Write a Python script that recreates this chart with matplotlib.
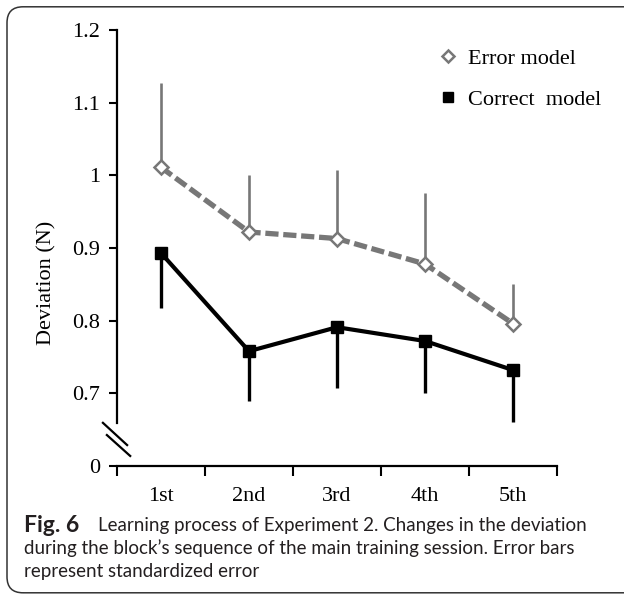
import matplotlib
matplotlib.use("Agg")
import matplotlib.pyplot as plt
from matplotlib.lines import Line2D
from matplotlib.patches import FancyBboxPatch

# data
blocks = ["1st", "2nd", "3rd", "4th", "5th"]
error_mean = [1.011, 0.922, 0.913, 0.878, 0.796]
error_se = [0.116, 0.078, 0.094, 0.097, 0.054]
correct_mean = [0.893, 0.758, 0.791, 0.772, 0.732]
correct_se = [0.076, 0.069, 0.083, 0.072, 0.071]
ytick_vals = [0.6, 0.7, 0.8, 0.9, 1.0, 1.1, 1.2]
ytick_labels = ["0", "0.7", "0.8", "0.9", "1", "1.1", "1.2"]

gray = "#777777"
serif = "Liberation Serif"

fig = plt.figure(figsize=(6.24, 5.94), dpi=100)
ax = fig.add_axes([117 / 624, 1 - 466 / 594, 440 / 624, 436 / 594])

x = list(range(1, len(blocks) + 1))

# one-sided error bars
ax.errorbar(x, error_mean, yerr=[[0] * 5, error_se], fmt="none",
            ecolor=gray, elinewidth=1.9, capsize=0, zorder=2)
ax.errorbar(x, correct_mean, yerr=[correct_se, [0] * 5], fmt="none",
            ecolor="black", elinewidth=2.4, capsize=0, zorder=2)

ax.plot(x, error_mean, color=gray, lw=3.8, dashes=(2.5, 0.9),
        dash_capstyle="butt", marker="D", ms=7.5, mfc="white",
        mec=gray, mew=1.8, zorder=3)
ax.plot(x, correct_mean, color="black", lw=3, marker="s", ms=8,
        mfc="black", mec="black", zorder=3)

ax.set_xlim(0.5, 5.5)
ax.set_ylim(0.6, 1.2)

ax.spines["top"].set_visible(False)
ax.spines["right"].set_visible(False)
for s in ["left", "bottom"]:
    ax.spines[s].set_linewidth(1.6)
ax.spines["left"].set_bounds(0.659, 1.2)

ax.set_yticks(ytick_vals)
ax.set_yticklabels(ytick_labels, fontfamily=serif, fontsize=16)
ax.tick_params(axis="y", direction="out", length=6, width=1.5, pad=6)

ax.set_xticks([0.5, 1.5, 2.5, 3.5, 4.5, 5.5])
ax.set_xticklabels([])
ax.set_xticks(x, minor=True)
ax.set_xticklabels(blocks, minor=True, fontfamily=serif, fontsize=16)
ax.tick_params(axis="x", which="major", direction="out", length=7, width=1.5)
ax.tick_params(axis="x", which="minor", length=0, pad=15)

ax.set_ylabel("Deviation (N)", fontfamily=serif, fontsize=16)
ax.yaxis.set_label_coords(-0.138, 0.42)

# axis break marks
for x0, y0, x1, y1 in [(-0.032, 0.099, 0.023, 0.048),
                       (-0.023, 0.071, 0.030, 0.023)]:
    ax.plot([x0, x1], [y0, y1], transform=ax.transAxes, color="black",
            lw=1.6, clip_on=False)

handles = [
    Line2D([], [], ls="none", marker="D", ms=6.5, mfc="white", mec=gray, mew=1.8),
    Line2D([], [], ls="none", marker="s", ms=7.5, mfc="black", mec="black"),
]
leg = fig.legend(handles, ["Error model", "Correct  model"], loc="upper left",
                 bbox_to_anchor=(441 / 624, 1 - 48 / 594),
                 bbox_transform=fig.transFigure, frameon=False,
                 prop={"family": serif, "size": 16}, handlelength=0.6,
                 handletextpad=0.6, labelspacing=0.95, borderpad=0,
                 borderaxespad=0)

# caption, sized so that the first line ends where the reference does
cap_font = "Lato"
cap_color = "#231f20"
fig_lbl = fig.text(24 / 624, 1 - 525 / 594, "Fig. 6", fontweight="bold",
                   va="center", fontfamily=cap_font, fontsize=14, color=cap_color)
line1 = fig.text(98 / 624, 1 - 525 / 594,
                 "Learning process of Experiment 2. Changes in the deviation",
                 va="center", fontfamily=cap_font, fontsize=14, color=cap_color)
line2 = fig.text(24 / 624, 1 - 548 / 594,
                 "during the block\u2019s sequence of the main training session. Error bars",
                 va="center", fontfamily=cap_font, fontsize=14, color=cap_color)
line3 = fig.text(24 / 624, 1 - 571 / 594, "represent standardized error",
                 va="center", fontfamily=cap_font, fontsize=14, color=cap_color)

renderer = fig.canvas.get_renderer()
w = line1.get_window_extent(renderer).width
size = 14 * 489 / w
for t in (line1, line2, line3):
    t.set_fontsize(size)
fig_lbl.set_fontsize(size * 1.22)

# rounded frame around the figure
frame = FancyBboxPatch((0.07, 0.012), 6.6, 5.86,
                       boxstyle="round,pad=0,rounding_size=0.16",
                       transform=fig.dpi_scale_trans, fill=False,
                       edgecolor="#333333", lw=1.1)
fig.patches.append(frame)

fig.savefig("out.png", dpi=100)
